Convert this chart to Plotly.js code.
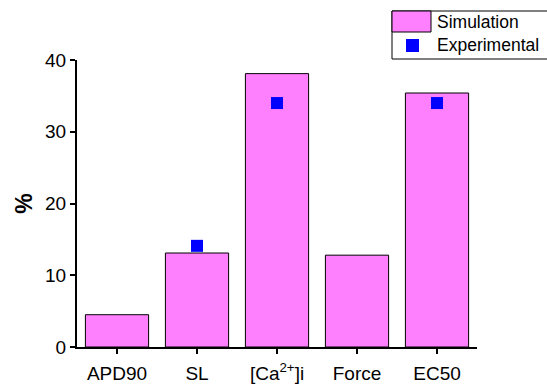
<!DOCTYPE html>
<html><head><meta charset="utf-8">
<script src="https://cdn.plot.ly/plotly-3.0.1.min.js"></script>
<style>html,body{margin:0;padding:0;background:#fff}#chart{width:547px;height:387px}</style>
</head><body><div id="chart"></div>
<script>
const categories = ["APD90", "SL", "[Ca<sup>2+</sup>]i", "Force", "EC50"];
const simulation = [4.5, 13.1, 38.1, 12.8, 35.4];
const expCategories = ["SL", "[Ca<sup>2+</sup>]i", "EC50"];
const experimental = [14.1, 34.0, 34.0];
const yTicks = [0, 10, 20, 30, 40];

const traces = [
  {type: "bar", x: categories, y: simulation, name: "Simulation", width: 0.79,
   marker: {color: "#FF80FF", line: {color: "#000", width: 1}}},
  {type: "scatter", mode: "markers", x: expCategories, y: experimental, name: "Experimental",
   marker: {symbol: "square", color: "#0000FF", size: 12}}
];
const font = {family: "Liberation Sans, Arial, sans-serif", color: "#000"};
const layout = {
  width: 547, height: 387, showlegend: false,
  margin: {l: 77, r: 70, t: 60, b: 40},
  paper_bgcolor: "#fff", plot_bgcolor: "#fff",
  font: Object.assign({size: 19}, font),
  xaxis: {type: "category", range: [-0.5, 4.5], showline: true, linecolor: "#000", linewidth: 2,
    ticks: "outside", ticklen: 5, tickwidth: 2, tickcolor: "#000", showgrid: false, zeroline: false,
    ticklabelstandoff: 3,
    tickfont: Object.assign({size: 19}, font)},
  yaxis: {range: [0, 40], tickvals: yTicks, showline: true, linecolor: "#000", linewidth: 2,
    ticks: "outside", ticklen: 5, tickwidth: 2, tickcolor: "#000", showgrid: false, zeroline: false,
    tickfont: Object.assign({size: 19}, font),
    title: {text: "<b>%</b>", font: Object.assign({size: 23}, font), standoff: 6}},
  shapes: [
    {type: "rect", xref: "paper", yref: "paper", x0: (392-77)/400, x1: (560-77)/400,
     y0: (347-59)/287, y1: (347-11)/287, line: {color: "#000", width: 1}, fillcolor: "rgba(0,0,0,0)"},
    {type: "rect", xref: "paper", yref: "paper", x0: (392-77)/400, x1: (431-77)/400,
     y0: (347-32)/287, y1: (347-11)/287, line: {color: "#000", width: 1}, fillcolor: "#FF80FF"},
    {type: "rect", xref: "paper", yref: "paper", x0: (406-77)/400, x1: (419-77)/400,
     y0: (347-52)/287, y1: (347-39)/287, line: {width: 0}, fillcolor: "#0000FF"}
  ],
  annotations: [
    {xref: "paper", yref: "paper", x: (435-77)/400, y: (347-21.5)/287, xanchor: "left", yanchor: "middle",
     text: "Simulation", showarrow: false, font: Object.assign({size: 17.5}, font)},
    {xref: "paper", yref: "paper", x: (435-77)/400, y: (347-45)/287, xanchor: "left", yanchor: "middle",
     text: "Experimental", showarrow: false, font: Object.assign({size: 17.5}, font)}
  ]
};
Plotly.newPlot("chart", traces, layout, {displayModeBar: false, staticPlot: true});
</script></body></html>
